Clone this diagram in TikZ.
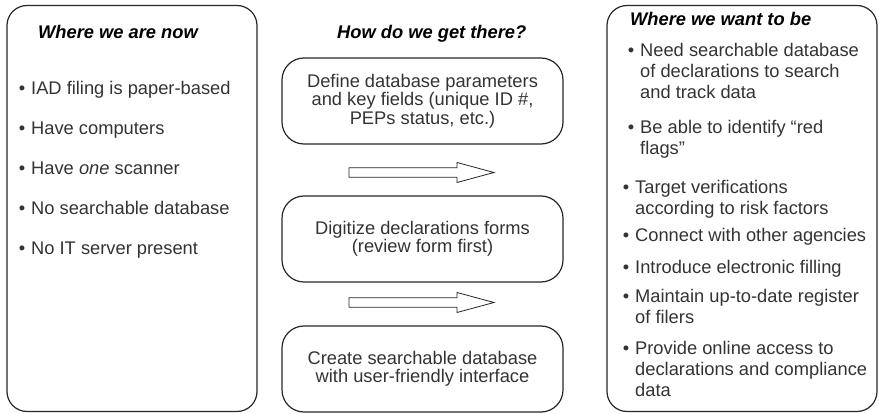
\documentclass[tikz,border=0pt]{standalone}
\usepackage{fontspec}
\setmainfont{Liberation Sans}
\usepackage{tikz}
\newcommand{\bodyfont}{\fontsize{18.3}{18.3}\selectfont}
\newcommand{\listfont}{\fontsize{18.3}{20.7}\selectfont}
\newcommand{\headfont}{\fontsize{18.3}{18.3}\selectfont\bfseries\itshape}
\newcommand{\bul}{\leavevmode\llap{\textbullet\hspace{6pt}}}
\tikzset{
  panel/.style = {draw=black!85, line width=1.2pt, rounded corners=20pt, inner sep=0pt},
  stepbox/.style = {draw=black!85, line width=1.2pt, rounded corners=22pt,
    minimum width=281pt, minimum height=86pt, align=center, font=\bodyfont, text=black!80},
  heading/.style = {anchor=base west, inner sep=0pt, font=\headfont},
  item/.style = {anchor=base west, inner sep=0pt, font=\listfont, text=black!80},
  blockarrow/.style = {draw=black!85, line width=0.8pt, fill=white}
}

\begin{document}
\begin{tikzpicture}[x=1pt, y=-1pt]
        \useasboundingbox (0,0) rectangle (879,414);
        % left and right panels
        \node[panel, minimum width=250pt, minimum height=406pt] (now) at (132,208.5) {};
        \node[panel, minimum width=270pt, minimum height=406pt] (want) at (742,208.5) {};
        % headings
        \node[heading] (nowtitle) at (38,39) {Where we are now};
        \node[heading] (howtitle) at (337,39) {How do we get there?};
        \node[heading] (wanttitle) at (630,26) {Where we want to be};
        % where we are now
        \node[item] (n1) at (31,95) {\bul IAD filing is paper-based};
        \node[item] (n2) at (31,135) {\bul Have computers};
        \node[item] (n3) at (31,175) {\bul Have \textit{one} scanner};
        \node[item] (n4) at (31,215) {\bul No searchable database};
        \node[item] (n5) at (31,255) {\bul No IT server present};
        % steps
        \node[stepbox] (define) at (422.5,101) {Define database parameters\\and key fields (unique ID \#,\\PEPs status, etc.)};
        \node[stepbox] (digitize) at (422.5,239) {Digitize declarations forms\\(review form first)};
        \node[stepbox] (create) at (422.5,369) {Create searchable database\\with user-friendly interface};
        \coordinate (a1) at (349,172.5);
        \coordinate (a2) at (349,302.5);
        \draw[blockarrow] (a1) ++(0,-4.8) -- ++(108,0) -- ++(0,-5.2) -- ++(37,10)
            -- ++(-37,10) -- ++(0,-5.2) -- ++(-108,0) -- cycle;
        \draw[blockarrow] (a2) ++(0,-4.8) -- ++(108,0) -- ++(0,-5.2) -- ++(37,10)
            -- ++(-37,10) -- ++(0,-5.2) -- ++(-108,0) -- cycle;
        % where we want to be
        \node[item] (w1) at (640,56.7) {\parbox[t]{230pt}{\bul Need searchable database\\of declarations to search\\and track data}};
        \node[item] (w2) at (640,134) {\parbox[t]{230pt}{\bul Be able to identify ``red\\flags''}};
        \node[item] (w3) at (635,194) {\parbox[t]{235pt}{\bul Target verifications\\according to risk factors}};
        \node[item] (w4) at (635,241.7) {\bul Connect with other agencies};
        \node[item] (w5) at (635,273.3) {\bul Introduce electronic filling};
        \node[item] (w6) at (635,302.7) {\parbox[t]{235pt}{\bul Maintain up-to-date register\\of filers}};
        \node[item] (w7) at (635,355) {\parbox[t]{235pt}{\bul Provide online access to\\declarations and compliance\\data}};
\end{tikzpicture}
\end{document}
